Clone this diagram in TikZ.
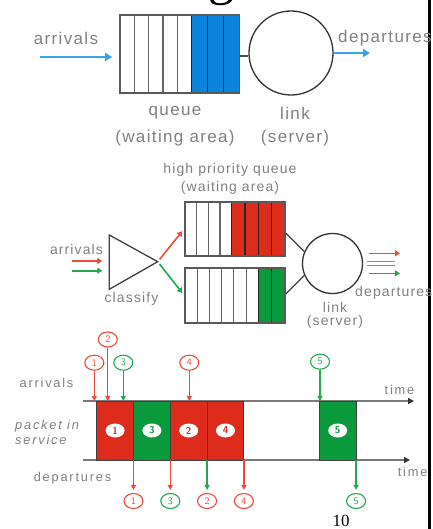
\documentclass[tikz,border=0pt]{standalone}
\usepackage{fontspec}
\setmainfont{Liberation Serif}
\newfontfamily\lblfont[LetterSpace=8]{Liberation Sans}
\newfontfamily\tlblfont[LetterSpace=14]{Liberation Sans}
\usetikzlibrary{arrows.meta}
\usetikzlibrary{positioning}
\usetikzlibrary{shapes.geometric}

\definecolor{qblue}{HTML}{0A84DC}
\definecolor{flowblue}{HTML}{3BA4E8}
\definecolor{pred}{HTML}{DD2C1C}
\definecolor{pgreen}{HTML}{0A9A3C}
\definecolor{lred}{HTML}{F04A3A}
\definecolor{lgreen}{HTML}{22A84E}
\definecolor{txtgray}{HTML}{808080}
\definecolor{axisgray}{HTML}{7A7A7A}

\begin{document}
\begin{tikzpicture}[
    x=1pt, y=-1pt,
    >=Triangle,
    lbl/.style={font=\lblfont\fontsize{17}{19}\selectfont, text=txtgray, inner sep=0pt},
    smlbl/.style={font=\lblfont\fontsize{14}{16}\selectfont, text=txtgray, inner sep=0pt},
    tlbl/.style={font=\tlblfont\fontsize{12.8}{14}\selectfont, text=txtgray, inner sep=0pt},
    wcell/.style={draw=black!60, fill=white, line width=1.2pt},
    ccell/.style={draw=black!85, fill=#1, line width=1.2pt},
    qbox/.style={rectangle, draw=black!65, line width=1.6pt, inner sep=0pt, minimum width=#1},
    server/.style={circle, draw=black!80, line width=1.3pt, inner sep=0pt},
    bigflow/.style={->, line width=2.2pt, color=#1, arrows={-Triangle[length=7pt,width=8pt]}},
    midflow/.style={line width=1.6pt, color=#1, arrows={-Triangle[length=5pt,width=6pt]}},
    tarr/.style={line width=1.3pt, color=#1, arrows={-Triangle[length=5pt,width=5pt]}},
    axis/.style={line width=1.6pt, color=axisgray, arrows={-Triangle[length=6pt,width=6pt, color=black!80]}},
    pnum/.style={ellipse, draw=#1, fill=white, line width=1.1pt, minimum width=19pt, minimum height=15pt, inner sep=0pt, text=#1, font=\sffamily\fontsize{10}{10}\selectfont},
    inum/.style={ellipse, fill=white, minimum width=19pt, minimum height=14pt, inner sep=0pt, text=#1, font=\sffamily\bfseries\fontsize{10}{10}\selectfont},
    pbox/.style={rectangle, fill=#1, draw=black!75, line width=1pt, minimum width=36.8pt, minimum height=59pt, inner sep=0pt, outer sep=0pt}
]
\useasboundingbox (0,0) rectangle (432,529);

% Title fragment and slide edge
\node[font=\fontsize{52}{52}\selectfont, anchor=base, inner sep=0pt] (title) at (221.5,-5) {g};
\draw[line width=3pt] (429.5,-2) -- (429.5,531);

% Single queue
\foreach \i in {0,...,4} {\draw[wcell] ({120+14.34*\i},15) rectangle +(14.34,78);}
\foreach \i in {0,...,2} {\draw[ccell=qblue] ({191.7+15.93*\i},15) rectangle +(15.93,78);}
\node[qbox=119.5pt, minimum height=78pt] (queue) at (179.75,54) {};
\node[server, minimum size=84pt] (link) at (291,53) {};
\coordinate (arrIn) at (40,57);
\coordinate (depOut) at (370,53);

\node[lbl] (arrTxt) at (66,38) {arrivals};
\node[lbl, anchor=west] (depTxt) at (338,38) {departures};
\node[lbl] (qTxt) at (175,113) {queue};
\node[lbl] (waitTxt) at (175,138) {(waiting area)};
\node[lbl] (lTxt) at (295,113) {link};
\node[lbl] (srvTxt) at (295,138) {(server)};

\draw[bigflow=flowblue, shorten >=7pt] (arrIn) -- (queue.west |- arrIn);
\draw[line width=1.3pt, black!70] (queue.east |- 0,56) -- (link.west |- 0,56);
\draw[bigflow=flowblue] (link.east) -- (depOut);

% Priority queues
\foreach \i in {0,...,3} {\draw[wcell] ({185+11.675*\i},201.7) rectangle +(11.675,54.3);}
\foreach \i in {0,...,3} {\draw[ccell=pred] ({231.7+13.325*\i},201.7) rectangle +(13.325,54.3);}
\foreach \i in {0,...,5} {\draw[wcell] ({185+12.22*\i},268) rectangle +(12.22,54.7);}
\foreach \i in {0,...,1} {\draw[ccell=pgreen] ({258.3+13.35*\i},268) rectangle +(13.35,54.7);}
\node[qbox=100pt, minimum height=54.3pt] (hiq) at (235,228.85) {};
\node[qbox=100pt, minimum height=54.7pt] (loq) at (235,295.35) {};
\node[server, minimum size=60pt] (link2) at (332.5,263.5) {};

\draw[line width=1.3pt, black!75] (109.3,235) -- (109.3,289.3) -- (157.7,261.7) -- cycle;
\coordinate (clsBack) at (109.3,262);
\coordinate (clsTip) at (157.7,261.7);
\coordinate (arrR) at (72,261);
\coordinate (arrG) at (72,270.7);
\coordinate (outR) at (400,253.3);
\coordinate (outG) at (400,273.3);
\coordinate (outM) at (395,263.5);

\node[smlbl] (hpTxt) at (230,170) {high priority queue};
\node[smlbl] (wait2Txt) at (230,188) {(waiting area)};
\node[smlbl] (arr2Txt) at (76.5,249.3) {arrivals};
\node[smlbl] (clsTxt) at (131.5,299.3) {classify};
\node[smlbl, anchor=west] (dep2Txt) at (355,293.3) {departures};
\node[smlbl] (l2Txt) at (335,307.3) {link};
\node[smlbl] (srv2Txt) at (335,321.7) {(server)};

\draw[midflow=lred, shorten >=7pt] (arrR) -- (arrR -| clsBack);
\draw[midflow=lgreen, shorten >=7pt] (arrG) -- (arrG -| clsBack);
\draw[midflow=lred, shorten <=3pt, shorten >=3pt] (clsTip) -- (hiq.west);
\draw[midflow=lgreen, shorten <=3pt, shorten >=3pt] (clsTip) -- (loq.west);
\draw[line width=1.3pt, black!75] (hiq.east |- 0,233) -- (link2.157);
\draw[line width=1.3pt, black!75] (loq.east |- 0,294) -- (link2.203);
\draw[line width=1.2pt, black!45, double=white, double distance=3pt, shorten <=4pt] (link2.east) -- (outM);
\draw[midflow=lred, shorten <=5.5pt] (link2.east |- outR) -- (outR);
\draw[midflow=lgreen, shorten <=5.5pt] (link2.east |- outG) -- (outG);

% Timeline
\coordinate (up0) at (83,401);
\coordinate (upEnd) at (414,401);
\coordinate (lo0) at (83,460);
\coordinate (loEnd) at (410,460);
\draw[axis] (up0) -- (upEnd);
\draw[axis] (lo0) -- (loEnd);

\node[pbox=pred] (s1) at (115.1,430.5) {};
\node[pbox=pgreen, right=0pt of s1] (s3) {};
\node[pbox=pred, right=0pt of s3] (s2) {};
\node[pbox=pred, right=0pt of s2] (s4) {};
\node[pbox=pgreen] (s5) at (337.7,430.5) {};
\node[inum=pred] (s1n) at (s1) {1};
\node[inum=pgreen] (s3n) at (s3) {3};
\node[inum=pred] (s2n) at (s2) {2};
\node[inum=pred] (s4n) at (s4) {4};
\node[inum=pgreen] (s5n) at (s5) {5};

\node[pnum=lred] (a1) at (94.3,362.7) {1};
\node[pnum=lred] (a2) at (107.8,339.5) {2};
\node[pnum=lgreen] (a3) at (123.3,362.7) {3};
\node[pnum=lred] (a4) at (189.3,362.7) {4};
\node[pnum=lgreen] (a5) at (320,361.7) {5};
\draw[tarr=lred] (a1) -- (a1 |- up0);
\draw[tarr=lred] (a2) -- (a2 |- up0);
\draw[tarr=lgreen] (a3) -- (a3 |- up0);
\draw[tarr=lred] (a4) -- (a4 |- up0);
\draw[tarr=lgreen] (a5) -- (a5 |- up0);

\node[pnum=lred] (d1) at (s1.east |- 0,501) {1};
\node[pnum=lgreen] (d3) at (s3.east |- 0,501) {3};
\node[pnum=lred] (d2) at (s2.east |- 0,501) {2};
\node[pnum=lred] (d4) at (s4.east |- 0,501) {4};
\node[pnum=lgreen] (d5) at (s5.east |- 0,501) {5};
\draw[tarr=lred, shorten >=3pt] (d1 |- lo0) -- (d1);
\draw[tarr=lred, shorten >=3pt] (d3 |- lo0) -- (d3);
\draw[tarr=lgreen, shorten >=3pt] (d2 |- lo0) -- (d2);
\draw[tarr=lred, shorten >=3pt] (d4 |- lo0) -- (d4);
\draw[tarr=lgreen, shorten >=3pt] (d5 |- lo0) -- (d5);

\node[tlbl] (arr3Txt) at (46.5,383.3) {arrivals};
\node[tlbl, anchor=west, align=left, font=\tlblfont\itshape\fontsize{12.8}{15}\selectfont] (pisTxt) at (15,432.5) {packet in\\service};
\node[tlbl] (dep3Txt) at (72.5,478) {departures};
\node[tlbl] (t1Txt) at (399.5,390) {time};
\node[tlbl, anchor=west] (t2Txt) at (397.7,471.7) {time};

\node[font=\fontsize{17}{17}\selectfont, inner sep=0pt] (pageNo) at (341,520.5) {10};
\end{tikzpicture}
\end{document}
